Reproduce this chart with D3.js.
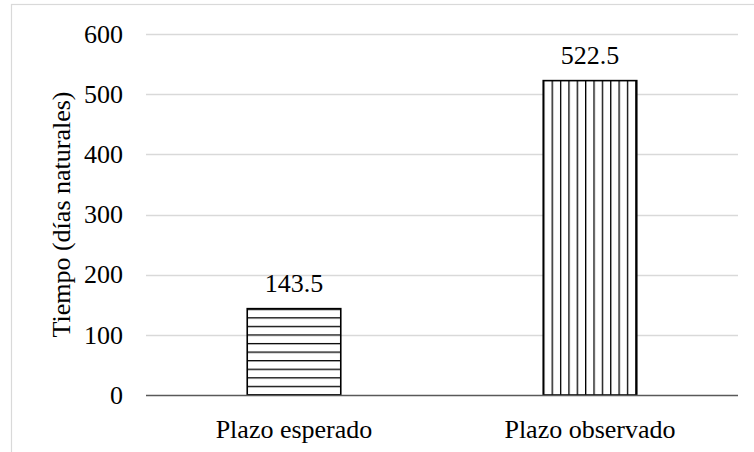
<!DOCTYPE html>
<html>
<head>
<meta charset="utf-8">
<script src="https://cdn.jsdelivr.net/npm/d3@7"></script>
<style>
  html, body { margin: 0; padding: 0; background: #fff; }
  svg { display: block; }
</style>
</head>
<body>
<script>
const categories = ["Plazo esperado", "Plazo observado"];
const values = [143.5, 522.5];
const valueLabels = ["143.5", "522.5"];
const yTicks = [0, 100, 200, 300, 400, 500, 600];
const yTitle = "Tiempo (días naturales)";
const patterns = ["horizontal", "vertical"];

const W = 754, H = 452;
const margin = { left: 146, right: 16, top: 34, bottom: 57 };
const FONT = "'Liberation Serif', 'Times New Roman', serif";

const svg = d3.select("body").append("svg").attr("width", W).attr("height", H)
  .attr("font-family", FONT);

// outer frame (cut off at right and bottom like the reference)
svg.append("rect")
  .attr("x", 11.5).attr("y", 4.5)
  .attr("width", W + 20).attr("height", H + 20)
  .attr("fill", "none").attr("stroke", "#d9d9d9").attr("stroke-width", 1.2);

const x = d3.scaleBand().domain(categories)
  .range([margin.left, W - margin.right]).paddingInner(0.684).paddingOuter(0.342);
const y = d3.scaleLinear().domain([0, 600]).range([H - margin.bottom, margin.top]);

// gridlines
svg.append("g").selectAll("line").data(yTicks.filter(d => d !== 0)).join("line")
  .attr("x1", margin.left).attr("x2", W - margin.right)
  .attr("y1", d => Math.round(y(d)) + 0.5).attr("y2", d => Math.round(y(d)) + 0.5)
  .attr("stroke", "#d9d9d9").attr("stroke-width", 1.3);

// y tick labels
const yAxis = d3.axisLeft(y).tickValues(yTicks).tickSize(0).tickPadding(23).tickFormat(d3.format("d"));
const gy = svg.append("g").attr("transform", `translate(${margin.left},0)`).call(yAxis);
gy.attr("font-family", FONT).attr("font-size", 26);
gy.select(".domain").remove();
gy.selectAll("text").style("font-family", FONT).style("font-size", "26px").attr("fill", "#000");

// y title
svg.append("text")
  .attr("transform", `translate(70,${(y(0) + y(600)) / 2}) rotate(-90)`)
  .attr("text-anchor", "middle")
  .style("font-family", FONT)
  .style("font-size", "26px")
  .attr("fill", "#000")
  .text(yTitle);

// patterns
const defs = svg.append("defs");
categories.forEach((c, i) => {
  const kind = patterns[i];
  const bx = x(c), by = y(values[i]);
  const step = kind === "horizontal" ? 8.57 : 8.36;
  const p = defs.append("pattern")
    .attr("id", "pat" + i)
    .attr("patternUnits", "userSpaceOnUse")
    .attr("width", kind === "horizontal" ? 20 : step)
    .attr("height", kind === "horizontal" ? step : 20)
    .attr("patternTransform", `translate(${bx},${by})`);
  p.append("rect").attr("width", 20).attr("height", 20).attr("fill", "#fff");
  if (kind === "horizontal") {
    p.append("line").attr("x1", 0).attr("x2", 20).attr("y1", 0).attr("y2", 0)
      .attr("stroke", "#000").attr("stroke-width", 2.6);
  } else {
    p.append("line").attr("x1", 0).attr("x2", 0).attr("y1", 0).attr("y2", 20)
      .attr("stroke", "#000").attr("stroke-width", 2.6);
  }
});

// bars
svg.append("g").selectAll("rect").data(categories).join("rect")
  .attr("x", d => x(d))
  .attr("y", (d, i) => y(values[i]))
  .attr("width", x.bandwidth())
  .attr("height", (d, i) => y(0) - y(values[i]))
  .attr("fill", (d, i) => `url(#pat${i})`)
  .attr("stroke", "#000").attr("stroke-width", 1.6);

// baseline
svg.append("line")
  .attr("x1", margin.left).attr("x2", W - margin.right)
  .attr("y1", y(0) + 0.5).attr("y2", y(0) + 0.5)
  .attr("stroke", "#595959").attr("stroke-width", 1.3);

// value labels
svg.append("g").selectAll("text").data(categories).join("text")
  .attr("x", d => x(d) + x.bandwidth() / 2)
  .attr("y", (d, i) => y(values[i]) - 17)
  .attr("text-anchor", "middle")
  .style("font-family", FONT)
  .style("font-size", "26px")
  .attr("fill", "#000")
  .text((d, i) => valueLabels[i]);

// category labels
svg.append("g").selectAll("text").data(categories).join("text")
  .attr("x", d => x(d) + x.bandwidth() / 2)
  .attr("y", y(0) + 43)
  .attr("text-anchor", "middle")
  .style("font-family", FONT)
  .style("font-size", "26px")
  .attr("fill", "#000")
  .text(d => d);
</script>
</body>
</html>
